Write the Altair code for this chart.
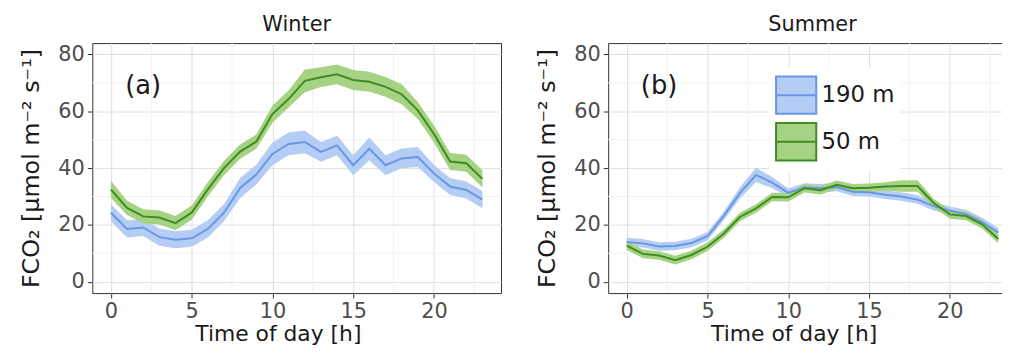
import altair as alt
import pandas as pd

hours = list(range(24))
heights = ["190 m", "50 m"]

winter_190 = [24.3, 18.6, 19.1, 15.7, 14.8, 15.3, 18.6, 24.3, 33.0, 37.7, 45.0, 48.5,
              49.2, 45.7, 48.0, 41.0, 46.8, 41.0, 43.4, 43.9, 38.1, 33.5, 32.3, 28.9]
winter_190_err = [3.0, 3.0, 3.0, 3.0, 3.0, 3.0, 3.0, 3.0, 3.5, 3.5, 4.0, 4.0,
                  4.0, 3.5, 3.5, 3.5, 4.0, 3.5, 3.5, 3.5, 3.0, 3.0, 3.0, 3.0]
winter_50 = [32.5, 26.0, 23.0, 22.6, 20.6, 24.3, 32.5, 40.0, 45.8, 49.3, 59.0, 64.3,
             70.7, 72.0, 73.0, 71.0, 70.4, 68.6, 66.0, 60.3, 52.0, 42.3, 41.7, 36.2]
winter_50_err = [3.0, 2.5, 2.5, 2.5, 2.5, 2.5, 2.5, 2.5, 2.5, 2.5, 3.0, 3.0,
                 4.0, 3.5, 3.5, 3.5, 3.5, 3.5, 3.5, 3.0, 3.0, 3.0, 3.0, 3.0]
summer_190 = [14.0, 13.5, 12.4, 12.6, 13.6, 16.0, 23.1, 31.2, 37.6, 34.9, 31.3, 33.2,
              32.9, 33.3, 31.7, 31.5, 30.6, 30.0, 28.9, 26.6, 25.0, 23.8, 21.0, 17.3]
summer_190_err = [1.5, 1.5, 1.5, 1.5, 1.5, 1.5, 1.5, 2.0, 2.5, 2.0, 1.5, 1.5,
                  1.5, 1.5, 1.5, 1.5, 1.5, 1.5, 1.5, 1.5, 1.5, 1.5, 1.5, 1.5]
summer_50 = [12.7, 9.8, 9.2, 7.6, 9.4, 12.3, 16.9, 22.8, 25.8, 29.8, 29.7, 32.9,
             32.2, 34.1, 32.9, 33.1, 33.5, 33.7, 33.7, 27.7, 23.7, 23.1, 20.2, 15.0]
summer_50_err = [1.5, 1.5, 1.5, 1.5, 1.5, 1.5, 1.5, 1.5, 1.5, 1.5, 1.5, 1.5,
                 1.5, 1.5, 1.5, 1.5, 1.5, 2.0, 2.0, 1.5, 1.5, 1.5, 1.5, 1.5]

x_ticks = [0, 5, 10, 15, 20]
y_ticks = [0, 20, 40, 60, 80]
x_minor = [2.5, 7.5, 12.5, 17.5, 22.5]
y_minor = [10, 30, 50, 70]

FONT = "DejaVu Sans"
fill_colors = ["#b4cdf5", "#a6d383"]
line_colors = ["#6a96e4", "#3f8c20"]


def make_df(v190, e190, v50, e50):
    rows = []
    for name, vals, errs in ((heights[0], v190, e190), (heights[1], v50, e50)):
        for h, v, e in zip(hours, vals, errs):
            rows.append({"hour": h, "height": name, "mean": v, "lo": v - e, "hi": v + e})
    return pd.DataFrame(rows)


xscale = alt.Scale(domain=[-1.15, 24.15], nice=False, zero=False)
yscale = alt.Scale(domain=[-4, 84], nice=False, zero=False)
xaxis = alt.Axis(values=x_ticks, title="Time of day [h]", titleX=187, titleY=48,
                 titleBaseline="alphabetic", titleAlign="center")
yaxis = alt.Axis(values=y_ticks, title="FCO₂ [μmol m⁻² s⁻¹]", titleX=-61, titleY=126,
                 titleAngle=270, titleBaseline="middle", titleAlign="center",
                 titleFontSize=24)

symbol_path = "M-1,-0.93H1V0.93H-1Z M-1,0H1"


def panel(df, title, label, show_legend):
    if show_legend:
        leg = alt.Legend(title=None, orient="none", legendX=162, legendY=25,
                         symbolType=symbol_path, symbolSize=1640, symbolStrokeWidth=2,
                         labelFont=FONT, labelFontSize=23, labelColor="#1a1a1a",
                         labelOffset=4, rowPadding=0, fillColor="white", padding=6)
    else:
        leg = None
    minor_x = alt.Chart(pd.DataFrame({"v": x_minor})).mark_rule(
        color="#f1f1f1", strokeWidth=1).encode(x=alt.X("v:Q", scale=xscale, axis=xaxis))
    minor_y = alt.Chart(pd.DataFrame({"v": y_minor})).mark_rule(
        color="#f1f1f1", strokeWidth=1).encode(y=alt.Y("v:Q", scale=yscale, axis=yaxis))
    band = alt.Chart(df).mark_area(opacity=1).encode(
        x=alt.X("hour:Q", scale=xscale, axis=xaxis),
        y=alt.Y("lo:Q", scale=yscale, axis=yaxis),
        y2="hi:Q",
        fill=alt.Fill("height:N", scale=alt.Scale(domain=heights, range=fill_colors), legend=leg),
    )
    line = alt.Chart(df).mark_line(strokeWidth=2).encode(
        x=alt.X("hour:Q", scale=xscale, axis=xaxis),
        y=alt.Y("mean:Q", scale=yscale, axis=yaxis),
        stroke=alt.Stroke("height:N", scale=alt.Scale(domain=heights, range=line_colors), legend=leg),
    )
    txt = alt.Chart(pd.DataFrame({"t": [label]})).mark_text(
        font=FONT, fontSize=26, color="#1a1a1a", align="center", baseline="middle"
    ).encode(x=alt.datum(2.0), y=alt.datum(69.0), text="t:N")
    return alt.layer(minor_x, minor_y, band, line, txt).properties(
        width=412, height=252,
        title=alt.TitleParams(title, font=FONT, fontSize=21, fontWeight="normal",
                              color="#1a1a1a", offset=8),
    )


left = panel(make_df(winter_190, winter_190_err, winter_50, winter_50_err), "Winter", "(a)", False)
right = panel(make_df(summer_190, summer_190_err, summer_50, summer_50_err), "Summer", "(b)", True)

chart = alt.hconcat(left, right, spacing=33).resolve_scale(
    fill="independent", stroke="independent"
).configure_view(stroke="#333333", strokeWidth=1).configure_axis(
    labelFont=FONT, labelFontSize=21, labelColor="#4d4d4d", tickColor="#333333",
    tickSize=5, labelPadding=3, domain=False, gridColor="#e0e0e0", gridWidth=1,
    titleFont=FONT, titleFontSize=22, titleFontWeight="normal", titleColor="#1a1a1a",
).properties(padding={"left": 11, "top": 4, "right": -16, "bottom": 1})

chart.save("out.html", embed_options={"renderer": "svg", "actions": False})
